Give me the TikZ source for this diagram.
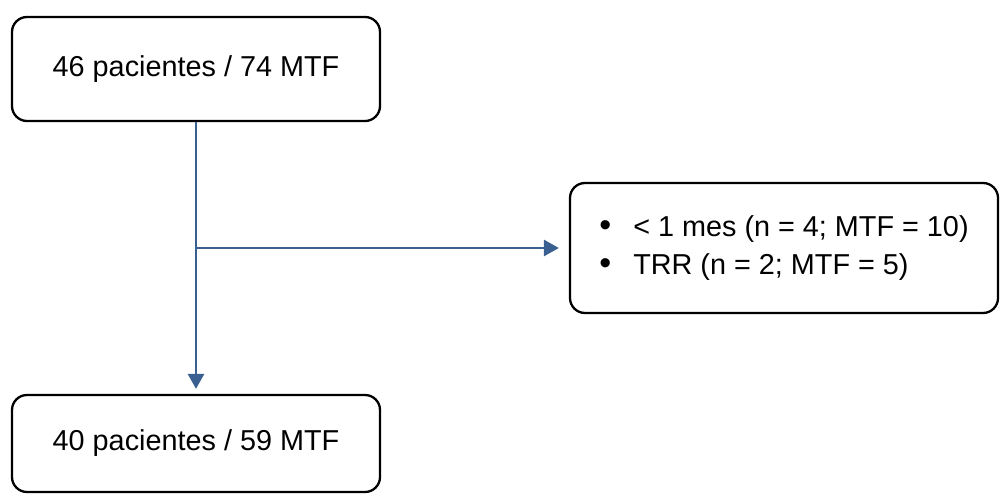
\documentclass[tikz,border=0pt]{standalone}
\usepackage{fontspec}
\setmainfont{Liberation Sans}
\usetikzlibrary{arrows.meta}
\definecolor{lineblue}{RGB}{58,96,145}
\tikzset{
  box/.style={draw=black, line width=2.3pt, rounded corners=15pt, inner sep=0pt,
    font=\fontsize{28.8}{38}\selectfont, align=center},
  arr/.style={draw=lineblue, line width=2.8pt,
    -{Triangle[width=16pt,length=15pt]}},
}
\newcommand{\bigbul}{{\fontsize{34}{38}\selectfont\textbullet}}
\begin{document}
\begin{tikzpicture}[x=1pt,y=-1pt]
\useasboundingbox (0,0) rectangle (1000,495);
\node[box, minimum width=368pt, minimum height=104pt] (a) at (196,69) {46 pacientes / 74 MTF};
\node[box, minimum width=368pt, minimum height=97pt] (b) at (196,443.5) {40 pacientes / 59 MTF};
\node[box, minimum width=428pt, minimum height=130pt] (c) at (784,248)
  {\begin{tabular}{@{}l@{\hspace{22pt}}l@{}}
   \bigbul & < 1 mes (n = 4; MTF = 10)\\
   \bigbul & TRR (n = 2; MTF = 5)
   \end{tabular}};
\coordinate (j) at (a.south |- c.west);
\draw[arr] (a.south) -- ([yshift=5pt]b.north);
\draw[arr] (j) -- ([xshift=-10pt]c.west);
\end{tikzpicture}
\end{document}
